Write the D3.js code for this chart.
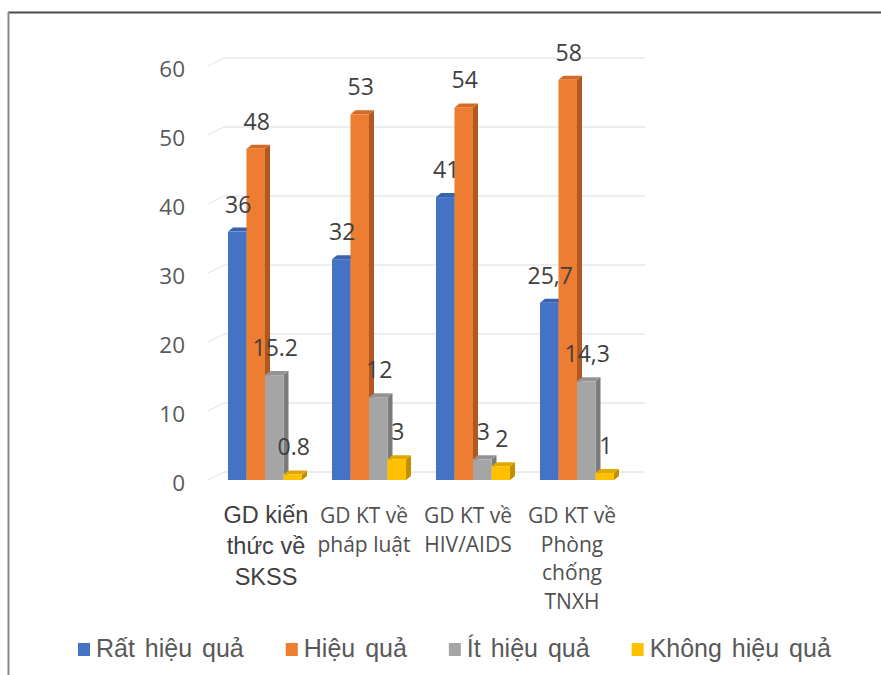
<!DOCTYPE html>
<html>
<head>
<meta charset="utf-8">
<script src="https://cdn.jsdelivr.net/npm/d3@7"></script>
<style>
  html, body { margin: 0; padding: 0; background: #fff; }
  svg { display: block; }
</style>
</head>
<body>
<svg id="chart" width="881" height="675"></svg>
<script>
// Categories (each entry is the wrapped label lines)
const categories = [
  ["GD kiến", "thức về", "SKSS"],
  ["GD KT về", "pháp luật"],
  ["GD KT về", "HIV/AIDS"],
  ["GD KT về", "Phòng", "chống", "TNXH"]
];
const seriesNames = ["Rất hiệu quả", "Hiệu quả", "Ít hiệu quả", "Không hiệu quả"];
const seriesColors = ["#4472C4", "#ED7D31", "#A5A5A5", "#FFC000"];
const sideColors   = ["#2F5597", "#B0581F", "#7B7B7B", "#BF9000"];
const topColors    = ["#3A63AE", "#D56A25", "#939393", "#E0A800"];

// Values per series, one per category
const rathieuqua   = [36, 32, 41, 25.7];
const hieuqua      = [48, 53, 54, 58];
const ithieuqua    = [15.2, 12, 3, 14.3];
const khonghieuqua = [0.8, 3, 2, 1];
const seriesValues = [rathieuqua, hieuqua, ithieuqua, khonghieuqua];

// Data label texts as printed on the chart
const rathieuquaLabels   = ["36", "32", "41", "25,7"];
const hieuquaLabels      = ["48", "53", "54", "58"];
const ithieuquaLabels    = ["15.2", "12", "3", "14,3"];
const khonghieuquaLabels = ["0.8", "3", "2", "1"];
const seriesLabels = [rathieuquaLabels, hieuquaLabels, ithieuquaLabels, khonghieuquaLabels];

const yTicks = [0, 10, 20, 30, 40, 50, 60];

const svg = d3.select("#chart");

// Outer frame (top and left edges)
svg.append("line").attr("x1", 8).attr("y1", 12.5).attr("x2", 881).attr("y2", 12.5)
  .attr("stroke", "#4a4a4a").attr("stroke-width", 2);
svg.append("line").attr("x1", 8.5).attr("y1", 12).attr("x2", 8.5).attr("y2", 675)
  .attr("stroke", "#8a8a8a").attr("stroke-width", 2);

// Scales
const y = d3.scaleLinear().domain([0, 60]).range([480, 66]);
const x0 = d3.scaleBand().domain(d3.range(categories.length))
  .range([213, 629]).paddingInner(0.288).paddingOuter(0.144);
const x1 = d3.scaleBand().domain(d3.range(seriesNames.length))
  .range([0, x0.bandwidth()]).padding(0);

// 3D depth offsets
const DX = 16, DY = -8;     // wall depth
const BX = 5, BY = -4;      // bar depth

// Back-wall gridlines and left wall stubs
const grid = svg.append("g");
yTicks.forEach(t => {
  grid.append("line")
    .attr("x1", 208 + DX).attr("x2", 645)
    .attr("y1", y(t) + DY).attr("y2", y(t) + DY)
    .attr("stroke", "#dcdcdc").attr("stroke-width", 1);
  grid.append("line")
    .attr("x1", 208).attr("y1", y(t))
    .attr("x2", 208 + DX).attr("y2", y(t) + DY)
    .attr("stroke", "#e2e2e2").attr("stroke-width", 1);
});

// Y axis labels
const yAxis = d3.axisLeft(y).tickValues(yTicks).tickSize(0).tickPadding(0);
const yg = svg.append("g").attr("transform", "translate(185,3)").call(yAxis);
yg.select(".domain").remove();
yg.selectAll("text")
  .attr("font-family", "'Open Sans', sans-serif")
  .attr("font-size", 22.5)
  .attr("fill", "#595959");

// Bars
const bars = svg.append("g");
categories.forEach((c, ci) => {
  seriesNames.forEach((s, si) => {
    const v = seriesValues[si][ci];
    const xl = x0(ci) + x1(si);
    const xr = xl + x1.bandwidth();
    const yt = y(v);
    const yb = y(0);
    const g = bars.append("g");
    // side face
    g.append("path")
      .attr("d", `M${xr},${yb} L${xr},${yt} L${xr + BX},${yt + BY} L${xr + BX},${yb + BY} Z`)
      .attr("fill", sideColors[si]);
    // top face
    g.append("path")
      .attr("d", `M${xl},${yt} L${xl + BX},${yt + BY} L${xr + BX},${yt + BY} L${xr},${yt} Z`)
      .attr("fill", topColors[si]);
    // front face
    g.append("rect")
      .attr("x", xl).attr("y", yt)
      .attr("width", x1.bandwidth()).attr("height", yb - yt)
      .attr("fill", seriesColors[si]);
  });
});

// Data labels
const labels = svg.append("g");
categories.forEach((c, ci) => {
  seriesNames.forEach((s, si) => {
    const v = seriesValues[si][ci];
    labels.append("text")
      .attr("x", x0(ci) + x1(si) + x1.bandwidth() / 2 + 1)
      .attr("y", y(v) - 19)
      .attr("text-anchor", "middle")
      .attr("font-family", "'Open Sans', sans-serif")
      .attr("font-size", 23)
      .attr("fill", "#404040")
      .text(seriesLabels[si][ci]);
  });
});

// Category labels
const cats = svg.append("g");
categories.forEach((lines, ci) => {
  const first = ci === 0;
  const cx = x0(ci) + x0.bandwidth() / 2 + (first ? 1 : -5);
  const t = cats.append("text")
    .attr("text-anchor", "middle")
    .attr("font-family", first ? "'Liberation Sans', Arial, sans-serif" : "'Open Sans', sans-serif")
    .attr("font-size", first ? 23.5 : 21)
    .attr("fill", first ? "#404040" : "#505050");
  lines.forEach((ln, li) => {
    t.append("tspan")
      .attr("x", cx)
      .attr("y", 523 + li * (first ? 31 : 28.5))
      .text(ln);
  });
});

// Legend
const legend = svg.append("g").attr("transform", "translate(78,656)");
let lx = 0;
seriesNames.forEach((name, i) => {
  const g = legend.append("g").attr("transform", `translate(${lx},0)`);
  g.append("rect").attr("x", 0).attr("y", -13).attr("width", 12).attr("height", 13)
    .attr("fill", seriesColors[i]);
  const txt = g.append("text").attr("x", 18).attr("y", 1)
    .attr("font-family", "'Liberation Sans', Arial, sans-serif")
    .attr("font-size", 25).attr("word-spacing", 3)
    .attr("fill", "#595959").text(name);
  lx += 18 + txt.node().getComputedTextLength() + 42;
});
</script>
</body>
</html>
